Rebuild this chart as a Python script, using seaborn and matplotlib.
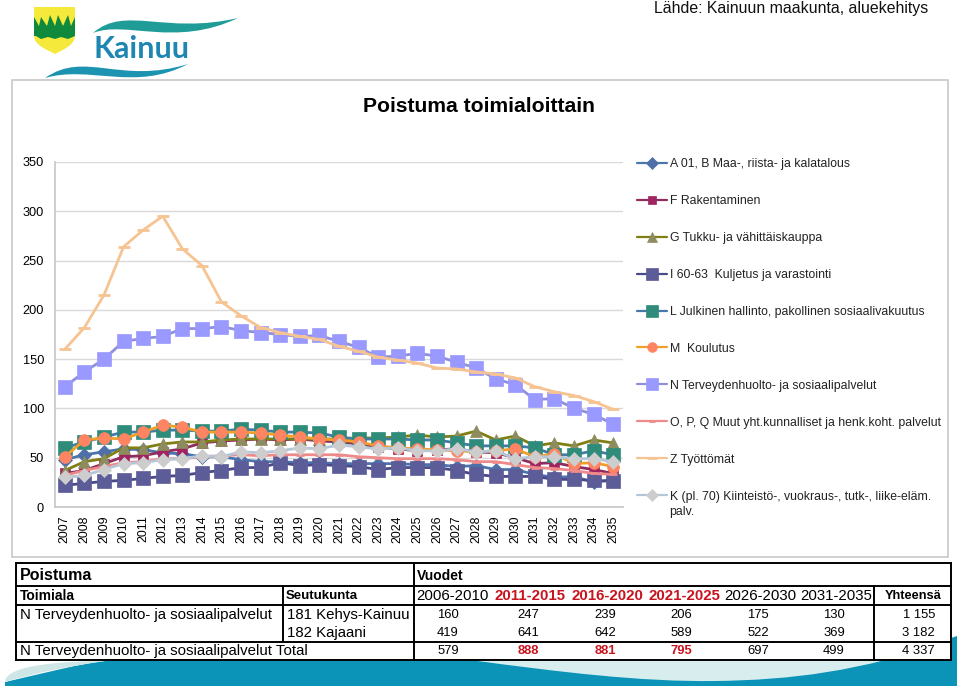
import matplotlib
matplotlib.use('Agg')
import matplotlib.pyplot as plt
import seaborn as sns
from matplotlib.patches import PathPatch, Polygon, Rectangle
from matplotlib.path import Path

years = list(range(2007, 2036))

maa = [48, 53, 56, 59, 58, 55, 54, 51, 51, 48, 46, 46, 45, 45, 44, 44, 44, 44, 43, 43, 41, 42, 38, 38, 33, 30, 31, 25, 28]
rakentaminen = [34, 37, 44, 51, 52, 56, 59, 65, 67, 68, 69, 68, 69, 67, 66, 64, 61, 59, 57, 58, 59, 56, 55, 50, 44, 45, 41, 38, 34]
kauppa = [37, 46, 49, 60, 60, 64, 66, 66, 68, 69, 69, 69, 69, 69, 69, 70, 70, 71, 73, 71, 72, 77, 68, 72, 62, 65, 62, 68, 65]
kuljetus = [22, 24, 26, 27, 29, 31, 32, 35, 37, 40, 40, 45, 42, 43, 42, 41, 38, 40, 40, 40, 37, 33, 31, 31, 31, 28, 28, 27, 26]
julkinen = [60, 66, 71, 76, 76, 78, 78, 77, 77, 79, 78, 76, 76, 75, 71, 69, 69, 69, 68, 68, 65, 62, 62, 62, 60, 53, 53, 57, 53]
koulutus = [51, 68, 70, 69, 76, 83, 81, 76, 76, 76, 75, 73, 71, 69, 68, 66, 62, 60, 59, 58, 57, 56, 57, 59, 51, 54, 44, 45, 41]
terveys = [122, 137, 150, 168, 171, 173, 181, 181, 183, 179, 177, 175, 173, 174, 168, 162, 152, 153, 156, 153, 147, 141, 130, 124, 109, 110, 100, 94, 84]
muut = [32, 37, 41, 45, 46, 49, 49, 51, 52, 53, 52, 53, 53, 53, 53, 51, 50, 49, 49, 49, 48, 46, 46, 43, 40, 39, 37, 34, 33]
tyottomat = [160, 182, 215, 264, 281, 295, 262, 245, 208, 194, 182, 177, 173, 170, 163, 158, 152, 149, 146, 141, 140, 137, 135, 131, 122, 117, 113, 107, 99]
kiinteisto = [30, 32, 38, 44, 45, 48, 49, 52, 51, 56, 55, 57, 60, 59, 63, 61, 59, 60, 57, 57, 59, 56, 57, 49, 51, 51, 49, 49, 46]

series_labels = [
    'A 01, B Maa-, riista- ja kalatalous',
    'F Rakentaminen',
    'G Tukku- ja vähittäiskauppa',
    'I 60-63  Kuljetus ja varastointi',
    'L Julkinen hallinto, pakollinen sosiaalivakuutus',
    'M  Koulutus',
    'N Terveydenhuolto- ja sosiaalipalvelut',
    'O, P, Q Muut yht.kunnalliset ja henk.koht. palvelut',
    'Z Työttömät',
    'K (pl. 70) Kiinteistö-, vuokraus-, tutk-, liike-eläm.',
]
series_values = [maa, rakentaminen, kauppa, kuljetus, julkinen, koulutus, terveys, muut, tyottomat, kiinteisto]
line_colors = ['#4A76AE', '#8E2B5F', '#7F7F14', '#4A4A8A', '#4579AA', '#F0A028', '#8F8FDC', '#EE8A8A', '#F6C493', '#B4C6DA']
face_colors = ['#4F6FA8', '#A0245F', '#8C8C5E', '#5C5C98', '#2F8C7A', '#FF8462', '#9999FF', '#EE8A8A', '#F6C493', '#CDCDCD']
markers = ['D', 's', '^', 's', 's', 'o', 's', '_', '_', 'D']
marker_sizes = [7, 7.5, 8.5, 10, 10, 8.5, 10, 6, 9, 7.5]

period_labels = ['2006-2010', '2011-2015', '2016-2020', '2021-2025', '2026-2030', '2031-2035']
kehys_values = ['160', '247', '239', '206', '175', '130']
kajaani_values = ['419', '641', '642', '589', '522', '369']
total_values = ['579', '888', '881', '795', '697', '499']
row_totals = ['1 155', '3 182', '4 337']
red_periods = [1, 2, 3]

sns.set_theme(style='white')
plt.rcParams['font.family'] = ['Liberation Sans', 'DejaVu Sans']

fig = plt.figure(figsize=(9.6, 6.88), dpi=100)

# background layer in pixel coordinates: logo, frame, wave, table
bg = fig.add_axes([0, 0, 1, 1], zorder=0)
bg.set_xlim(0, 960)
bg.set_ylim(688, 0)
bg.axis('off')


def curve(points, color, zorder=1):
    codes = [Path.MOVETO] + [Path.CURVE4] * (len(points) - 2) + [Path.CLOSEPOLY]
    bg.add_patch(PathPatch(Path(points, codes), facecolor=color, edgecolor='none', zorder=zorder))


# shield
shield = [(34, 7), (75, 7), (75, 35), (75, 46), (62, 50), (55, 54), (48, 50), (34, 46), (34, 35), (34, 7)]
shield_codes = [Path.MOVETO, Path.LINETO, Path.LINETO, Path.CURVE4, Path.CURVE4, Path.CURVE4,
                Path.CURVE4, Path.CURVE4, Path.CURVE4, Path.CLOSEPOLY]
bg.add_patch(PathPatch(Path(shield, shield_codes), facecolor='#F5EA3C', edgecolor='none', zorder=1))
bg.add_patch(Polygon([(34, 17), (39, 26), (41, 17), (47, 26), (50, 15), (55, 26), (58, 15), (63, 26), (68, 15), (71, 26), (75, 17),
                      (75, 36), (68, 39), (61, 37), (55, 39), (48, 37), (41, 39), (36, 36), (34, 36)],
                     facecolor='#0F8A3C', edgecolor='none', zorder=2))
# waves around the name
curve([(93, 33), (125, 5), (165, 35), (238, 18), (175, 48), (125, 20), (93, 33), (93, 33), (93, 33), (93, 33)], '#1F9C98')
curve([(45, 78), (85, 50), (120, 85), (188, 64), (135, 92), (90, 65), (45, 78), (45, 78), (45, 78), (45, 78)], '#1C93B0')
bg.text(94, 49, 'Kainuu', fontsize=22, fontweight='bold', family='Lato', color='#1E86B2', ha='left', va='center')

# bottom wave behind the table
bg.add_patch(Polygon([(5, 686), (5, 682), (100, 660), (480, 660), (957, 660), (957, 686)], facecolor='#0B93B8', edgecolor='none', zorder=1))
curve([(5, 682), (40, 672), (70, 666), (105, 661), (70, 661), (5, 664), (5, 682), (5, 682), (5, 682), (5, 682)], '#CFE6E6', zorder=2)
curve([(5, 682), (40, 672), (70, 666), (105, 661), (200, 650), (100, 650), (5, 650), (5, 682), (5, 682), (5, 682)], 'white', zorder=1.5)
curve([(470, 660), (560, 672), (640, 682), (715, 681), (790, 680), (860, 672), (951, 640), (957, 650), (957, 640), (957, 660), (700, 660), (470, 660), (470, 660)], '#D8EEEE', zorder=2)
bg.add_patch(Polygon([(951, 638), (957, 636), (957, 660), (951, 660)], facecolor='#0B93B8', edgecolor='none', zorder=2))

# chart frame
bg.add_patch(Rectangle((12, 80), 936, 477, facecolor='white', edgecolor='#C8C8C8', linewidth=1.2, zorder=3))

# source and title
bg.text(928, 8, 'Lähde: Kainuun maakunta, aluekehitys', fontsize=11.4, ha='right', va='center', color='#111111')
bg.text(479, 106, 'Poistuma toimialoittain', fontsize=15.2, fontweight='bold', ha='center', va='center', color='black')
bg.text(669, 512, 'palv.', fontsize=8.85, ha='left', va='center', color='#222222', zorder=4)

# table
bg.add_patch(Rectangle((16, 563), 935, 97, facecolor='white', edgecolor='none', zorder=4))
for y in [563, 586, 605, 642, 660]:
    bg.plot([16, 951], [y, y], color='black', lw=1.4, zorder=5, solid_capstyle='projecting')
for x, y0, y1 in [(16, 563, 660), (951, 563, 660), (414, 563, 660), (283, 586, 642), (874, 586, 660)]:
    bg.plot([x, x], [y0, y1], color='black', lw=1.4, zorder=5, solid_capstyle='projecting')

col_x = [448, 528, 605, 681, 758, 834]
head_x = [452, 530, 607, 684, 760, 836]


def cell(x, y, s, size=10.2, weight='normal', color='black', ha='left'):
    bg.text(x, y, s, fontsize=size, fontweight=weight, color=color, ha=ha, va='center', zorder=6)


cell(20, 575, 'Poistuma', size=11.5, weight='bold')
cell(417, 576, 'Vuodet', size=10, weight='bold')
cell(20, 596, 'Toimiala', size=10, weight='bold')
cell(286, 596, 'Seutukunta', size=9.5, weight='bold')
cell(20, 615, series_labels[6], size=10.8)
cell(287, 615, '181 Kehys-Kainuu', size=10.8)
cell(287, 633, '182 Kajaani', size=10.8)
cell(20, 651, series_labels[6] + ' Total', size=10.8)
cell(913, 596, 'Yhteensä', size=9.2, weight='bold', ha='center')

for i, x in enumerate(col_x):
    red = i in red_periods
    cell(head_x[i], 596, period_labels[i], size=10.8, weight='bold' if red else 'normal',
         color='#C8141E' if red else 'black', ha='center')
    cell(x, 615, kehys_values[i], size=9.4, ha='center')
    cell(x, 633, kajaani_values[i], size=9.4, ha='center')
    cell(x, 651, total_values[i], size=9.4, weight='bold' if red else 'normal',
         color='#C8141E' if red else 'black', ha='center')
for y, s in zip([615, 633, 651], row_totals):
    cell(935, y, s, size=9.4, ha='right')

# line chart
ax = fig.add_axes([55 / 960, 1 - 507 / 688, 568 / 960, 345 / 688], zorder=2)
ax.patch.set_alpha(0)

for vals, label, lc, fc, m, ms in zip(series_values, series_labels, line_colors, face_colors, markers, marker_sizes):
    sns.lineplot(x=years, y=vals, ax=ax, color=lc, linewidth=2, label=label, marker=m, markersize=ms,
                 markerfacecolor=fc, markeredgecolor=fc, markeredgewidth=2 if m == '_' else 0.5, clip_on=False)

ax.set_xlim(2006.5, 2035.5)
ax.set_ylim(0, 350)
ax.set_yticks(range(0, 351, 50))
ax.set_xticks(years)
ax.set_xticks([y - 0.5 for y in years] + [2035.5], minor=True)
ax.tick_params(axis='x', which='major', length=0, labelrotation=90, labelsize=8.9, pad=6, colors='black')
ax.tick_params(axis='x', which='minor', length=4, color='#C8C8C8', width=1)
ax.tick_params(axis='y', length=4, color='#C8C8C8', width=1, labelsize=9.2, pad=4, colors='black')
ax.yaxis.grid(True, color='#D9D9D9', linewidth=1)
ax.set_axisbelow(True)
for side in ['top', 'right']:
    ax.spines[side].set_visible(False)
for side in ['left', 'bottom']:
    ax.spines[side].set_color('#C8C8C8')

leg = ax.legend(loc='upper left', bbox_to_anchor=(637 / 960, 1 - 158 / 688), bbox_transform=fig.transFigure,
                frameon=False, fontsize=8.85, handlelength=2.4, handletextpad=0.3, labelspacing=2.03,
                borderpad=0, borderaxespad=0, labelcolor='#222222', alignment='left')
for handle, ms in zip(leg.legend_handles, marker_sizes):
    handle.set_linewidth(1.6)
    handle.set_markersize(ms * 0.82)

fig.savefig('out.png', dpi=100)
